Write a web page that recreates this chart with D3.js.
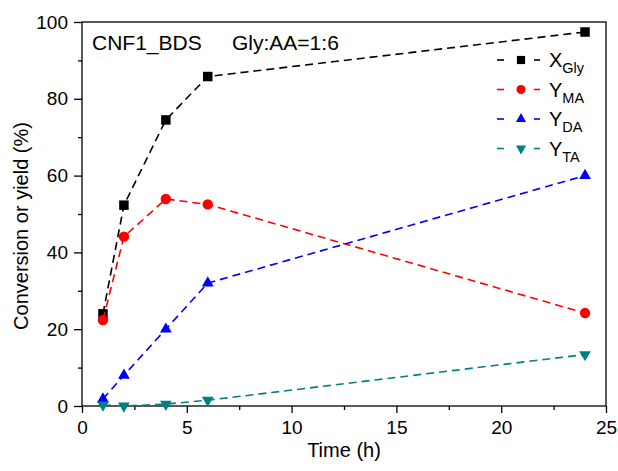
<!DOCTYPE html>
<html>
<head>
<meta charset="utf-8">
<script src="https://cdn.jsdelivr.net/npm/d3@7"></script>
<style>
  body { margin: 0; background: #fff; }
  text { font-family: Arial, "Liberation Sans", sans-serif; }
</style>
</head>
<body>
<div id="chart"></div>
<script>
// data
const time = [1, 2, 4, 6, 24];
const xGly = [24.0, 52.3, 74.5, 85.8, 97.4];
const yMA = [22.4, 44.1, 53.9, 52.5, 24.2];
const yDA = [1.8, 8.0, 20.0, 32.0, 60.0];
const yTA = [0.3, 0.0, 0.5, 1.5, 13.4];
const xTicks = [0, 5, 10, 15, 20, 25];
const yTicks = [0, 20, 40, 60, 80, 100];

const series = [
  {main: "X", sub: "Gly", values: xGly, color: "#000000", shape: d3.symbolSquare, size: 90, rot: 0},
  {main: "Y", sub: "MA", values: yMA, color: "#ff0000", shape: d3.symbolCircle, size: 85, rot: 0},
  {main: "Y", sub: "DA", values: yDA, color: "#0000ff", shape: d3.symbolTriangle, size: 60, rot: 0},
  {main: "Y", sub: "TA", values: yTA, color: "#008080", shape: d3.symbolTriangle, size: 60, rot: 180}
];

const margin = {top: 22, right: 12, bottom: 65, left: 82},
  width = 618 - margin.left - margin.right,
  height = 471 - margin.top - margin.bottom;

const svg = d3.select("#chart")
  .append("svg")
  .attr("width", 618)
  .attr("height", 471)
  .append("g")
  .attr("transform", `translate(${margin.left}, ${margin.top})`);

const x = d3.scaleLinear().domain([0, 25]).range([0, width]);
const y = d3.scaleLinear().domain([0, 100]).range([height, 0]);

// frame
svg.append("rect")
  .attr("width", width)
  .attr("height", height)
  .attr("fill", "none")
  .attr("stroke", "#000")
  .attr("stroke-width", 1.3);

// X axis
svg.append("g")
  .attr("transform", `translate(0, ${height})`)
  .call(d3.axisBottom(x).tickValues(xTicks).tickSize(7).tickPadding(8));
svg.append("g")
  .attr("transform", `translate(0, ${height})`)
  .call(d3.axisBottom(x).tickValues(d3.range(2.5, 25, 5)).tickSize(4).tickFormat(""));

// Y axis
svg.append("g")
  .call(d3.axisLeft(y).tickValues(yTicks).tickSize(8).tickPadding(6));
svg.append("g")
  .call(d3.axisLeft(y).tickValues(d3.range(10, 100, 20)).tickSize(4).tickFormat(""));

svg.selectAll(".tick line").attr("stroke", "#000").attr("stroke-width", 1.3);
svg.selectAll(".tick text").attr("font-size", "19px").attr("fill", "#000")
  .attr("font-family", "Arial, 'Liberation Sans', sans-serif");
svg.selectAll(".domain").remove();

// axis titles
svg.append("text")
  .attr("x", width / 2)
  .attr("y", height + 51)
  .attr("text-anchor", "middle")
  .attr("font-size", "20px")
  .text("Time (h)");

svg.append("text")
  .attr("transform", `translate(-54.5, ${height / 2 + 12}) rotate(-90)`)
  .attr("text-anchor", "middle")
  .attr("font-size", "20px")
  .text("Conversion or yield (%)");

// annotations
svg.append("text")
  .attr("x", 10)
  .attr("y", 28)
  .attr("font-size", "21px")
  .text("CNF1_BDS");
svg.append("text")
  .attr("x", 150)
  .attr("y", 28)
  .attr("font-size", "21px")
  .text("Gly:AA=1:6");

// lines and markers
const line = d3.line()
  .x(d => x(d[0]))
  .y(d => y(d[1]));

series.forEach(s => {
  const pts = time.map((t, i) => [t, s.values[i]]);
  svg.append("path")
    .datum(pts)
    .attr("d", line)
    .attr("fill", "none")
    .attr("stroke", s.color)
    .attr("stroke-width", 1.6)
    .attr("stroke-dasharray", "8,5");
  svg.selectAll(null)
    .data(pts)
    .join("path")
    .attr("d", d3.symbol().type(s.shape).size(s.size))
    .attr("transform", d => `translate(${x(d[0])}, ${y(d[1])}) rotate(${s.rot})`)
    .attr("fill", s.color);
});

// legend
const legend = svg.append("g")
  .attr("transform", `translate(415, 38)`);
series.forEach((s, i) => {
  const g = legend.append("g").attr("transform", `translate(0, ${i * 29.5})`);
  g.append("line").attr("x1", 0).attr("x2", 7).attr("stroke", s.color).attr("stroke-width", 1.6);
  g.append("line").attr("x1", 37).attr("x2", 43).attr("stroke", s.color).attr("stroke-width", 1.6);
  g.append("path")
    .attr("d", d3.symbol().type(s.shape).size(s.size * 0.75))
    .attr("transform", `translate(24, 0) rotate(${s.rot})`)
    .attr("fill", s.color);
  const t = g.append("text")
    .attr("x", 52)
    .attr("y", 7)
    .attr("font-size", "20px");
  t.append("tspan").text(s.main);
  t.append("tspan").attr("dy", 6).attr("font-size", "14.5px").text(s.sub);
});
</script>
</body>
</html>
